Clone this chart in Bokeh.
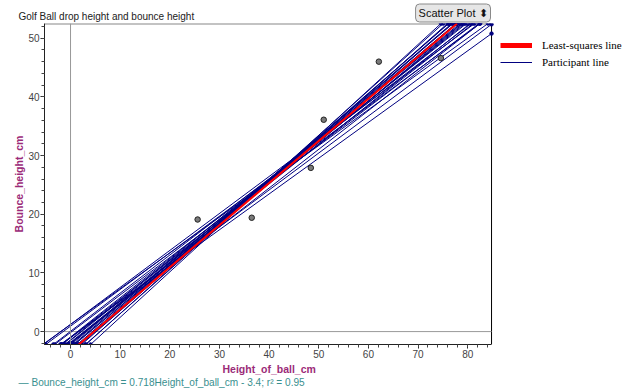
from bokeh.plotting import figure
from bokeh.models import (Range1d, Span, Legend, LegendItem, Title,
                          SingleIntervalTicker)
from bokeh.embed import file_html
from bokeh.resources import INLINE
import numpy as np

# ---------------- data ----------------
drop_height = [25.6, 36.5, 48.4, 51.0, 62.1, 74.6]
bounce_height = [19.1, 19.4, 27.9, 36.1, 46.0, 46.6]

ls_slope = 0.718
ls_intercept = -3.4
r_squared = 0.95

participant_slopes = [0.610, 0.625, 0.630, 0.640, 0.650, 0.660, 0.670, 0.675, 0.680,
                      0.685, 0.690, 0.695, 0.700, 0.705, 0.710, 0.715, 0.720, 0.725,
                      0.730, 0.735, 0.740, 0.750, 0.760, 0.775, 0.610, 0.630, 0.660]
participant_intercepts = [1.21, 0.925, 1.23, -0.16, 0.05, -1.04, -0.93, -1.825, -1.52,
                          -1.415, -2.11, -2.005, -2.70, -2.295, -2.79, -2.585, -3.38, -3.175,
                          -3.67, -3.465, -3.86, -4.45, -4.54, -5.325, -0.95, -1.07, -1.94]

x_label = "Height_of_ball_cm"
y_label = "Bounce_height_cm"
title_text = "Golf Ball drop height and bounce height"
button_text = "Scatter Plot \u2b0d"

X0, X1 = -5.24, 84.8      # plotted x extent
Y0, Y1 = -2.2, 52.5       # plotted y extent
XR = 112.79               # frame extends to the right to hold the legend

NAVY = "#000080"
PURPLE = "#9b2a78"
TEAL = "#3a8f8f"


def setp(obj, **kw):
    for k, v in kw.items():
        try:
            setattr(obj, k, v)
        except Exception:
            pass


p = figure(width=630, height=389, x_range=Range1d(X0, XR), y_range=Range1d(Y0, Y1),
           output_backend="svg", toolbar_location=None, title_location=None,
           min_border_left=44, min_border_right=0, min_border_top=23, min_border_bottom=45)
p.outline_line_color = None
p.grid.visible = False
p.background_fill_color = "white"
p.border_fill_color = "white"

# axes
for ax in (p.xaxis[0], p.yaxis[0]):
    ax.ticker = SingleIntervalTicker(interval=10, num_minor_ticks=5)
    ax.major_label_text_font = "Liberation Sans"
    ax.major_label_text_font_size = "10px"
    ax.major_label_text_color = "#444444"
    ax.major_label_standoff = 1
    ax.axis_line_color = "#222222"
    ax.major_tick_line_color = "#222222"
    ax.minor_tick_line_color = "#444444"
    ax.major_tick_out = 4
    ax.major_tick_in = 0
    ax.minor_tick_out = 3
    ax.minor_tick_in = 0
p.xaxis[0].bounds = (X0, X1)
p.xaxis[0].axis_label = None
ya = p.yaxis[0]
ya.axis_label = y_label
ya.axis_label_text_font = "Liberation Sans"
ya.axis_label_text_font_size = "10.5px"
ya.axis_label_text_font_style = "bold"
ya.axis_label_text_color = PURPLE
ya.axis_label_standoff = 0

# frame borders (right black, top grey) and zero lines
p.segment(x0=[X1], y0=[Y0], x1=[X1], y1=[Y1], line_color="black", line_width=1)
p.segment(x0=[X0], y0=[Y1], x1=[X1], y1=[Y1], line_color="#888888", line_width=2)
p.add_layout(Span(location=0, dimension="height", line_color="#999999", line_width=1))
p.segment(x0=[X0], y0=[0], x1=[X1], y1=[0], line_color="#999999", line_width=1)

# participant lines
m = np.array(participant_slopes)
b = np.array(participant_intercepts)
xb = (Y0 - b) / m
yb = np.full_like(xb, Y0)
xt = (Y1 - b) / m
yt = np.full_like(xt, Y1)
over = xt > X1
xt = np.where(over, X1, xt)
yt = np.where(over, m * X1 + b, yt)
p.segment(x0=xb, y0=yb, x1=xt, y1=yt, line_color=NAVY, line_width=1)
p.scatter(np.concatenate([xb, xt]), np.concatenate([yb, yt]), size=3.5,
          fill_color=NAVY, line_color=NAVY)

# least squares line
lx = np.array([X0, (Y1 - ls_intercept) / ls_slope])
p.line(lx, ls_slope * lx + ls_intercept, line_color="#ff0000", line_width=2)

# data points
p.scatter(drop_height, bounce_height, size=5.5, fill_color="#7a7a7a",
          line_color="#222222", line_width=1)

# legend proxies (no visible data) inside the widened frame
r1 = p.line([np.nan, np.nan], [np.nan, np.nan], line_color="#ff0000", line_width=5)
r2 = p.line([np.nan, np.nan], [np.nan, np.nan], line_color=NAVY, line_width=1)
legend = Legend(items=[LegendItem(label="Least-squares line", renderers=[r1]),
                       LegendItem(label="Participant line", renderers=[r2])],
                location=(456, 274), border_line_color=None, background_fill_alpha=0,
                padding=0, margin=0, spacing=1, glyph_width=32, glyph_height=16,
                label_height=16, label_standoff=10, label_text_font="Liberation Serif",
                label_text_font_size="11px", label_text_color="black")
p.add_layout(legend)

# title (above, left)
t_main = Title(text=title_text, align="left", text_font="Liberation Sans",
               text_font_size="10px", text_font_style="normal", text_color="#222222")
setp(t_main, offset=-26, standoff=3)
p.add_layout(t_main, "above")

# "Scatter Plot" selector (above, right)
t_btn = Title(text=button_text, align="right", text_font="Liberation Sans",
              text_font_size="11px", text_font_style="normal", text_color="#111111",
              background_fill_color="#e6e6e6", border_line_color="#8a8a8a")
setp(t_btn, offset=140, standoff=-29, border_radius=4, padding=3)
p.add_layout(t_btn, "above")

# x axis label (below, positioned under the plotted extent)
t_x = Title(text=x_label, align="left", text_font="Liberation Sans",
            text_font_size="10.5px", text_font_style="bold", text_color=PURPLE)
setp(t_x, offset=178, standoff=0)
p.add_layout(t_x, "below")

# equation (below, left)
eq = "\u2014 %s = %.3f%s - %.1f; r\u00b2 = %.2f" % (y_label, ls_slope, x_label,
                                                  -ls_intercept, r_squared)
t_eq = Title(text=eq, align="left", text_font="Liberation Sans",
             text_font_size="10.1px", text_font_style="normal", text_color=TEAL)
setp(t_eq, offset=-26, standoff=0)
p.add_layout(t_eq, "below")

open("out.html", "w").write(file_html(p, INLINE))
